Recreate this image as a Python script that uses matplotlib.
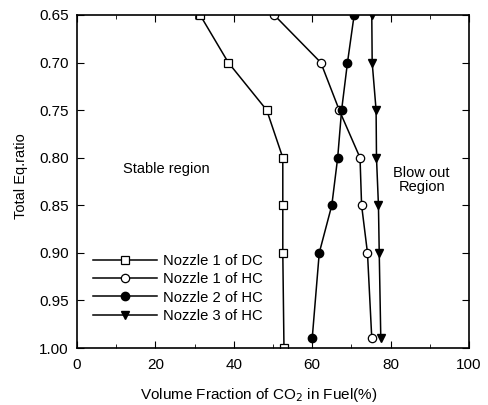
import matplotlib
matplotlib.use("Agg")
import matplotlib.pyplot as plt
from matplotlib.ticker import MultipleLocator

plt.rcParams['font.family'] = ['Liberation Sans', 'DejaVu Sans']

# Equivalence ratios
phi_dc = [0.65, 0.70, 0.75, 0.80, 0.85, 0.90, 1.00]
phi_hc = [0.65, 0.70, 0.75, 0.80, 0.85, 0.90, 0.99]

# CO2 volume fraction at blow-out (%)
dc_nozzle1 = [31.4, 38.6, 48.4, 52.5, 52.5, 52.5, 52.8]
hc_nozzle1 = [50.3, 62.2, 66.9, 72.2, 72.6, 74.1, 75.2]
hc_nozzle2 = [70.7, 69.0, 67.5, 66.5, 65.0, 61.8, 60.0]
hc_nozzle3 = [75.2, 75.3, 76.3, 76.4, 76.9, 77.1, 77.5]

labels = ["Nozzle 1 of DC", "Nozzle 1 of HC", "Nozzle 2 of HC", "Nozzle 3 of HC"]

fig = plt.figure(figsize=(4.88, 4.05), dpi=100)
ax = fig.add_axes([77 / 488, 1 - 348 / 405, (469 - 77) / 488, (348 - 15) / 405])

lw = 1.1
ax.plot(dc_nozzle1, phi_dc, color='black', lw=lw, marker='s', ms=5.5,
        mfc='white', mec='black', mew=0.9, label=labels[0])
ax.plot(hc_nozzle1, phi_hc, color='black', lw=lw, marker='o', ms=6,
        mfc='white', mec='black', mew=0.9, label=labels[1])
ax.plot(hc_nozzle2, phi_hc, color='black', lw=lw, marker='o', ms=6,
        mfc='black', mec='black', label=labels[2])
ax.plot(hc_nozzle3, phi_hc, color='black', lw=lw, marker='v', ms=5.5,
        mfc='black', mec='black', label=labels[3])

ax.set_xlim(0, 100)
ax.set_ylim(1.00, 0.65)
ax.xaxis.set_major_locator(MultipleLocator(20))
ax.xaxis.set_minor_locator(MultipleLocator(10))
ax.yaxis.set_major_locator(MultipleLocator(0.05))
ax.yaxis.set_major_formatter(plt.FormatStrFormatter('%.2f'))
ax.tick_params(which='both', direction='in', top=True, right=True, labelsize=11)
ax.tick_params(which='major', length=5)
ax.tick_params(which='minor', length=3)
ax.tick_params(axis='x', pad=7)
ax.tick_params(axis='y', pad=6)
for s in ax.spines.values():
    s.set_linewidth(1.2)

ax.set_xlabel("Volume Fraction of CO$_2$ in Fuel(%)", fontsize=11)
ax.xaxis.set_label_coords((259 - 77) / 392, -(386 - 348) / 333)
ax.set_ylabel("Total Eq.ratio", fontsize=10.5)
ax.yaxis.set_label_coords(-(77 - 28) / 392, (348 - 176) / 333)

ax.text(22.8, 0.812, "Stable region", fontsize=10.5, ha='center', va='center')
ax.text(87.9, 0.823, "Blow out\nRegion", fontsize=10.5, ha='center', va='center',
        linespacing=1.0)

ax.legend(loc='lower left', bbox_to_anchor=(0.04, 0.075), frameon=False,
          fontsize=10.6, handlelength=4.35, handletextpad=0.4,
          labelspacing=0.3, borderaxespad=0, borderpad=0)

fig.savefig("out.png", dpi=100)
